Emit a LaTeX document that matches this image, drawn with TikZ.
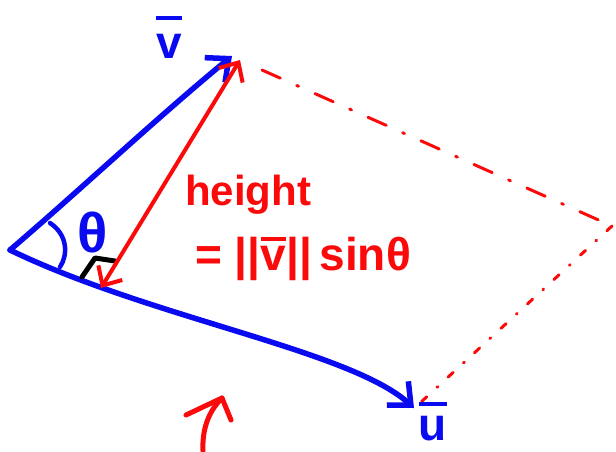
\documentclass[tikz,border=0pt]{standalone}
\usepackage{fontspec}
\setmainfont{Liberation Sans}
\usetikzlibrary{arrows.meta}
\definecolor{penblue}{RGB}{10,10,240}
\definecolor{penred}{RGB}{250,10,10}
\newcommand{\barred}[2]{\vbox{\hrule height 4pt\kern #2\hbox{#1}}}
\tikzset{
  barb/.tip={Straight Barb[length=18pt,width=32pt,line width=5.5pt]},
  rbarb/.tip={Straight Barb[length=15pt,width=28pt,line width=4pt]}
}
\begin{document}
\begin{tikzpicture}[x=1pt,y=-1pt,
  bluepen/.style={draw=penblue,line width=5.5pt,line cap=round,line join=round},
  redpen/.style={draw=penred,line width=4pt,line cap=round,line join=round},
  reddashA/.style={draw=penred,line width=3pt,line cap=round,dash pattern=on 20pt off 18pt on 2pt off 18pt},
  reddashB/.style={draw=penred,line width=3pt,line cap=round,dash pattern=on 7pt off 14pt on 1pt off 14pt},
  blacktick/.style={draw=black,line width=5pt,line cap=round,line join=round},
  bluetext/.style={text=penblue,inner sep=0pt},
  redtext/.style={text=penred,inner sep=0pt}]
\useasboundingbox (0,0) rectangle (616,451);
\coordinate (O) at (10,250);
\coordinate (V) at (232,56);
\coordinate (U) at (414,408);
\coordinate (W) at (612,226);
\coordinate (H) at (101,288);
\coordinate (T) at (240,60);
\coordinate (D1) at (262,70);
\coordinate (D2) at (420,403);
\coordinate (B1) at (203,451);
\coordinate (B2) at (222,398);
\coordinate (BL) at (186,415);
\coordinate (BR) at (231,420);
% vectors
\draw[bluepen,-{barb}] (O) .. controls (80,190) and (160,115) .. (V);
\draw[bluepen,-{barb}] (O) .. controls (150,318) and (350,350) .. (U);
% angle arc and right angle mark
\draw[bluepen,line width=4.5pt] (50,223) .. controls (68,235) and (68,255) .. (60,267);
\draw[blacktick] (82,277) -- (95,258) -- (115,261);
% height
\draw[redpen,{rbarb}-{rbarb}] (H) -- (T);
% parallelogram sides
\draw[reddashA] (D1) -- (W);
\draw[reddashB] (W) -- (D2);
% partial arrow at bottom
\draw[redpen,line width=5pt] (B1) .. controls (202,430) and (208,412) .. (B2);
\draw[redpen,line width=5pt] (BL) -- (B2) -- (BR);
% labels
\node[bluetext,anchor=base,font=\fontsize{46}{46}\bfseries\selectfont] (vlab) at (169,58) {\barred{v}{14pt}};
\node[bluetext,anchor=base,font=\fontsize{46}{46}\bfseries\selectfont] (ulab) at (433,440) {\barred{u}{10pt}};
\node[bluetext,font=\fontsize{56}{56}\bfseries\selectfont] (theta) at (93,232) {θ};
\node[redtext,anchor=base west,font=\fontsize{42}{42}\bfseries\selectfont] (ht) at (185,205) {height};
\node[redtext,anchor=base west,font=\fontsize{46}{46}\bfseries\selectfont] (eq) at (195,270) {= ||\barred{v}{5pt}||\,sinθ};
\end{tikzpicture}
\end{document}
